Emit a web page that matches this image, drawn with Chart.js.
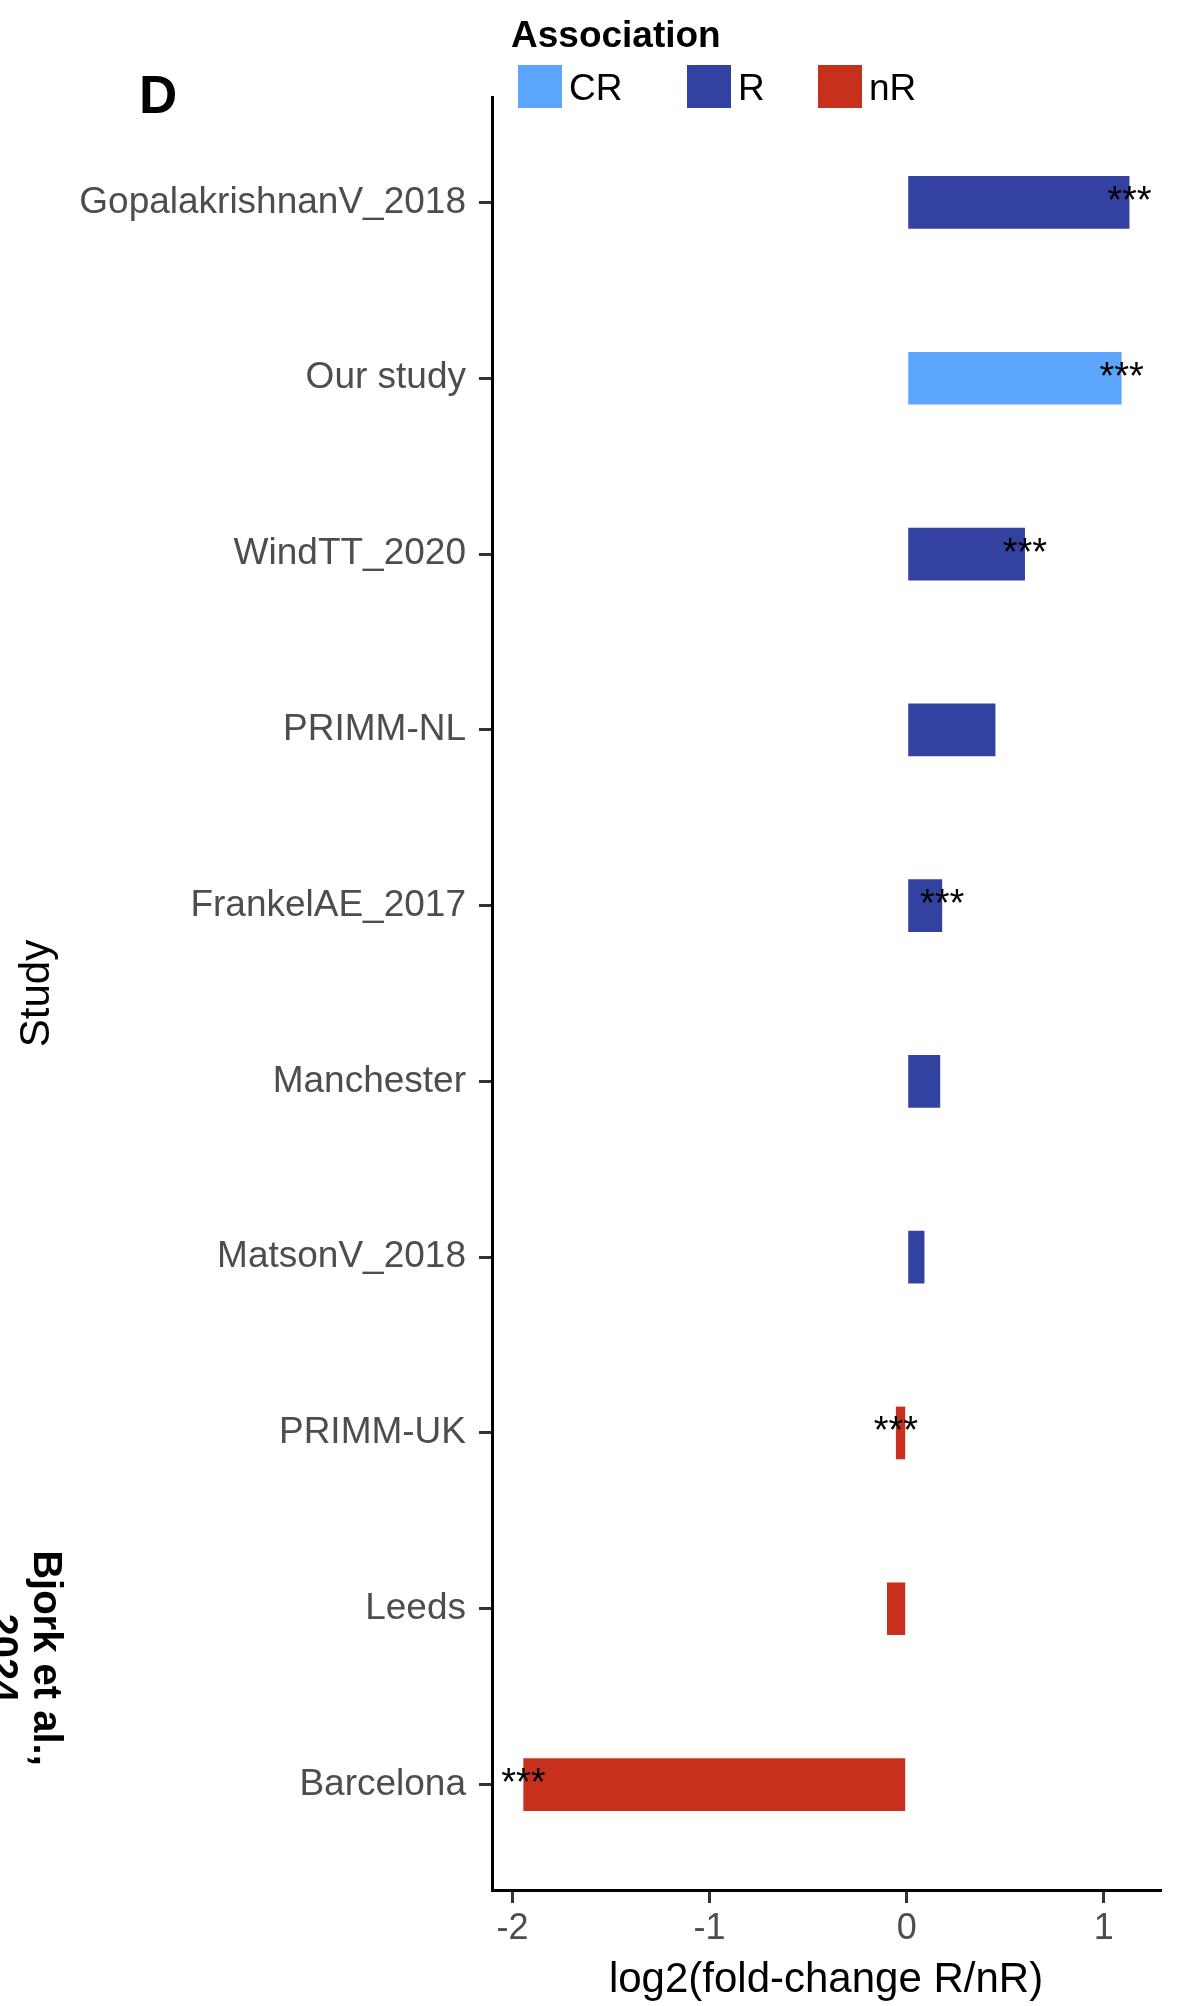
<!DOCTYPE html>
<html>
<head>
<meta charset="utf-8">
<title>log2 fold-change R/nR by study</title>
<script src="https://cdn.jsdelivr.net/npm/chart.js@4"></script>
<style>
  html, body { margin: 0; padding: 0; background: #ffffff; }
  canvas { display: block; }
</style>
</head>
<body>
<canvas id="fcChart" width="1181" height="2006"></canvas>
<script>
// ---------------- DATA ----------------
const studies = [
    "GopalakrishnanV_2018", "Our study", "WindTT_2020", "PRIMM-NL", "FrankelAE_2017",
    "Manchester", "MatsonV_2018", "PRIMM-UK", "Leeds", "Barcelona"
];
const log2fc = [1.13, 1.09, 0.60, 0.45, 0.18, 0.17, 0.09, -0.055, -0.10, -1.945];
const association = ["R", "CR", "R", "R", "R", "R", "R", "nR", "nR", "nR"];
const signif = ["***", "***", "***", "", "***", "", "", "***", "", "***"];
const xTickValues = [-2, -1, 0, 1];

const assocLevels = ["CR", "R", "nR"];
const assocColors = ["#5CA5FD", "#3342A0", "#C8301E"];

const xTitle = "log2(fold-change R/nR)";
const yTitle = "Study";
const panelTag = "D";
const sideNote = ["Bjork et al.,", "2024"];

// ---------------- STYLE ----------------
const FONT = "'Liberation Sans', Arial, Helvetica, sans-serif";
Chart.defaults.font.family = FONT;

// ---------------- EXTRA DRAWING ----------------
const extras = {
    id: "extras",
    afterDatasetsDraw(chart) {
        const ctx = chart.ctx;
        const meta = chart.getDatasetMeta(0);
        ctx.save();
        ctx.font = "38px " + FONT;
        ctx.fillStyle = "#000";
        ctx.textAlign = "center";
        ctx.textBaseline = "middle";
        meta.data.forEach((bar, i) => {
            if (signif[i]) ctx.fillText(signif[i], bar.x, bar.y);
        });
        ctx.restore();
    },
    afterDraw(chart) {
        const ctx = chart.ctx;
        ctx.save();

        // panel tag
        ctx.fillStyle = "#000";
        ctx.font = "bold 53px " + FONT;
        ctx.textAlign = "left";
        ctx.textBaseline = "alphabetic";
        ctx.fillText(panelTag, 139, 113);

        // legend
        ctx.font = "bold 37px " + FONT;
        ctx.fillText("Association", 511, 47);
        const boxX = [518, 687, 818];
        ctx.font = "37px " + FONT;
        assocLevels.forEach((lvl, i) => {
            ctx.fillStyle = assocColors[i];
            ctx.fillRect(boxX[i], 65, 44, 43);
            ctx.fillStyle = "#000";
            ctx.fillText(lvl, boxX[i] + 51, 100);
        });

        // rotated side note (clipped at the left edge)
        ctx.translate(34, 1658);
        ctx.rotate(Math.PI / 2);
        ctx.font = "bold 40px " + FONT;
        ctx.textAlign = "center";
        sideNote.forEach((line, i) => ctx.fillText(line, 0, i * 44));

        ctx.restore();
    }
};

// ---------------- DRAW CHART ----------------
const axisGrid = {
    offset: false,
    drawOnChartArea: false,
    drawTicks: true,
    tickLength: 13,
    tickWidth: 3,
    lineWidth: 3,
    tickColor: "#333333",
    color: "#333333"
};

new Chart(document.getElementById("fcChart"), {
    type: "bar",
    data: {
        datasets: [{
            data: log2fc.map((v, i) => ({ x: v, y: i })),
            backgroundColor: association.map(a => assocColors[assocLevels.indexOf(a)]),
            borderWidth: 0,
            barPercentage: 0.3,
            categoryPercentage: 1.0
        }]
    },
    options: {
        indexAxis: "y",
        responsive: false,
        animation: false,
        devicePixelRatio: 1,
        layout: { padding: { top: 97, right: 21, bottom: 0, left: 0 } },
        plugins: {
            legend: { display: false },
            tooltip: { enabled: false }
        },
        scales: {
            x: {
                type: "linear",
                offset: false,
                min: -2.104,
                max: 1.285,
                afterBuildTicks: s => { s.ticks = xTickValues.map(v => ({ value: v })); },
                afterFit: s => { s.height = 116; },
                ticks: {
                    autoSkip: false,
                    color: "#4D4D4D",
                    padding: 8,
                    font: { size: 36, lineHeight: 1 }
                },
                grid: axisGrid,
                border: { display: true, color: "#000", width: 3 },
                title: {
                    display: true,
                    text: xTitle,
                    color: "#000",
                    font: { size: 42, lineHeight: 1 },
                    padding: { top: 0, bottom: 5 }
                }
            },
            y: {
                type: "linear",
                offset: false,
                reverse: true,
                min: -0.6,
                max: 9.6,
                afterBuildTicks: s => { s.ticks = studies.map((_, i) => ({ value: i })); },
                afterFit: s => { s.width = 492; },
                ticks: {
                    autoSkip: false,
                    color: "#4D4D4D",
                    padding: 13,
                    font: { size: 37 },
                    callback: v => studies[v]
                },
                grid: axisGrid,
                border: { display: true, color: "#000", width: 3 },
                title: {
                    display: true,
                    text: yTitle,
                    color: "#000",
                    font: { size: 42, lineHeight: 1 },
                    padding: { top: 16, bottom: 0 }
                }
            }
        }
    },
    plugins: [extras]
});
</script>
</body>
</html>
